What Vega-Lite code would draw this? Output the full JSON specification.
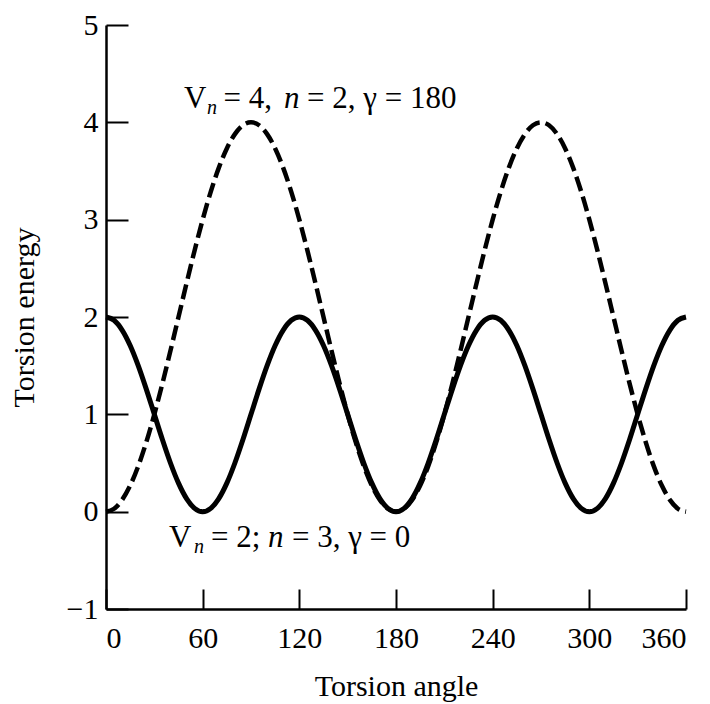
{
  "$schema": "https://vega.github.io/schema/vega-lite/v6.json",
  "width": 580,
  "height": 584,
  "autosize": "none",
  "padding": {"left": 106, "top": 25, "right": 24, "bottom": 95},
  "background": "white",
  "config": {
    "view": {"stroke": null},
    "font": "Liberation Serif",
    "axis": {
      "grid": false,
      "domainColor": "black",
      "domainWidth": 2.5,
      "tickColor": "black",
      "tickWidth": 2,
      "labelFont": "Liberation Serif",
      "labelFontSize": 30,
      "labelColor": "black",
      "titleFont": "Liberation Serif",
      "titleFontSize": 30,
      "titleFontWeight": "normal",
      "titleColor": "black"
    }
  },
  "datasets": {
    "curves": [
      {"a": 0, "s": 2, "d": 0},
      {"a": 5, "s": 1.966, "d": 0.03},
      {"a": 10, "s": 1.866, "d": 0.121},
      {"a": 15, "s": 1.707, "d": 0.268},
      {"a": 20, "s": 1.5, "d": 0.468},
      {"a": 25, "s": 1.259, "d": 0.714},
      {"a": 30, "s": 1, "d": 1},
      {"a": 35, "s": 0.741, "d": 1.316},
      {"a": 40, "s": 0.5, "d": 1.653},
      {"a": 45, "s": 0.293, "d": 2},
      {"a": 50, "s": 0.134, "d": 2.347},
      {"a": 55, "s": 0.034, "d": 2.684},
      {"a": 60, "s": 0, "d": 3},
      {"a": 65, "s": 0.034, "d": 3.286},
      {"a": 70, "s": 0.134, "d": 3.532},
      {"a": 75, "s": 0.293, "d": 3.732},
      {"a": 80, "s": 0.5, "d": 3.879},
      {"a": 85, "s": 0.741, "d": 3.97},
      {"a": 90, "s": 1, "d": 4},
      {"a": 95, "s": 1.259, "d": 3.97},
      {"a": 100, "s": 1.5, "d": 3.879},
      {"a": 105, "s": 1.707, "d": 3.732},
      {"a": 110, "s": 1.866, "d": 3.532},
      {"a": 115, "s": 1.966, "d": 3.286},
      {"a": 120, "s": 2, "d": 3},
      {"a": 125, "s": 1.966, "d": 2.684},
      {"a": 130, "s": 1.866, "d": 2.347},
      {"a": 135, "s": 1.707, "d": 2},
      {"a": 140, "s": 1.5, "d": 1.653},
      {"a": 145, "s": 1.259, "d": 1.316},
      {"a": 150, "s": 1, "d": 1},
      {"a": 155, "s": 0.741, "d": 0.714},
      {"a": 160, "s": 0.5, "d": 0.468},
      {"a": 165, "s": 0.293, "d": 0.268},
      {"a": 170, "s": 0.134, "d": 0.121},
      {"a": 175, "s": 0.034, "d": 0.03},
      {"a": 180, "s": 0, "d": 0},
      {"a": 185, "s": 0.034, "d": 0.03},
      {"a": 190, "s": 0.134, "d": 0.121},
      {"a": 195, "s": 0.293, "d": 0.268},
      {"a": 200, "s": 0.5, "d": 0.468},
      {"a": 205, "s": 0.741, "d": 0.714},
      {"a": 210, "s": 1, "d": 1},
      {"a": 215, "s": 1.259, "d": 1.316},
      {"a": 220, "s": 1.5, "d": 1.653},
      {"a": 225, "s": 1.707, "d": 2},
      {"a": 230, "s": 1.866, "d": 2.347},
      {"a": 235, "s": 1.966, "d": 2.684},
      {"a": 240, "s": 2, "d": 3},
      {"a": 245, "s": 1.966, "d": 3.286},
      {"a": 250, "s": 1.866, "d": 3.532},
      {"a": 255, "s": 1.707, "d": 3.732},
      {"a": 260, "s": 1.5, "d": 3.879},
      {"a": 265, "s": 1.259, "d": 3.97},
      {"a": 270, "s": 1, "d": 4},
      {"a": 275, "s": 0.741, "d": 3.97},
      {"a": 280, "s": 0.5, "d": 3.879},
      {"a": 285, "s": 0.293, "d": 3.732},
      {"a": 290, "s": 0.134, "d": 3.532},
      {"a": 295, "s": 0.034, "d": 3.286},
      {"a": 300, "s": 0, "d": 3},
      {"a": 305, "s": 0.034, "d": 2.684},
      {"a": 310, "s": 0.134, "d": 2.347},
      {"a": 315, "s": 0.293, "d": 2},
      {"a": 320, "s": 0.5, "d": 1.653},
      {"a": 325, "s": 0.741, "d": 1.316},
      {"a": 330, "s": 1, "d": 1},
      {"a": 335, "s": 1.259, "d": 0.714},
      {"a": 340, "s": 1.5, "d": 0.468},
      {"a": 345, "s": 1.707, "d": 0.268},
      {"a": 350, "s": 1.866, "d": 0.121},
      {"a": 355, "s": 1.966, "d": 0.03},
      {"a": 360, "s": 2, "d": 0}
    ],
    "regular": [
      {"a": 48.4, "e": 4.147, "t": "V"},
      {"a": 72.9, "e": 4.147, "t": "= 4,"},
      {"a": 124.8, "e": 4.147, "t": "= 2, γ = 180"},
      {"a": 39.1, "e": -0.363, "t": "V"},
      {"a": 65.2, "e": -0.363, "t": "= 2;"},
      {"a": 115.4, "e": -0.363, "t": "= 3, γ = 0"}
    ],
    "italic": [
      {"a": 110.5, "e": 4.147, "t": "n"},
      {"a": 100.6, "e": -0.363, "t": "n"}
    ],
    "sub": [
      {"a": 62.7, "e": 4.086, "t": "n"},
      {"a": 54.6, "e": -0.425, "t": "n"}
    ]
  },
  "layer": [
    {
      "data": {"name": "curves"},
      "mark": {"type": "line", "color": "black", "strokeWidth": 5, "interpolate": "monotone"},
      "encoding": {
        "x": {"field": "a", "type": "quantitative", "title": "Torsion angle",
              "scale": {"domain": [0, 360], "nice": false, "zero": false},
              "axis": {"values": [0, 60, 120, 180, 240, 300, 360], "format": "d", "tickSize": -20, "labelPadding": 34, "titlePadding": 18}},
        "y": {"field": "s", "type": "quantitative", "title": "Torsion energy",
              "scale": {"domain": [-1, 5], "nice": false, "zero": false},
              "axis": {"values": [-1, 0, 1, 2, 3, 4, 5], "format": "d", "tickSize": -22, "labelPadding": 30, "titlePadding": 27}}
      }
    },
    {
      "data": {"name": "curves"},
      "mark": {"type": "line", "color": "black", "strokeWidth": 4.5, "strokeDash": [15, 6], "interpolate": "monotone"},
      "encoding": {
        "x": {"field": "a", "type": "quantitative", "title": "Torsion angle"},
        "y": {"field": "d", "type": "quantitative", "title": "Torsion energy"}
      }
    },
    {
      "data": {"name": "regular"},
      "mark": {"type": "text", "align": "left", "baseline": "alphabetic", "fontSize": 31, "font": "Liberation Serif", "color": "black"},
      "encoding": {
        "x": {"field": "a", "type": "quantitative", "title": "Torsion angle"},
        "y": {"field": "e", "type": "quantitative", "title": "Torsion energy"},
        "text": {"field": "t"}
      }
    },
    {
      "data": {"name": "italic"},
      "mark": {"type": "text", "align": "left", "baseline": "alphabetic", "fontSize": 31, "fontStyle": "italic", "font": "Liberation Serif", "color": "black"},
      "encoding": {
        "x": {"field": "a", "type": "quantitative", "title": "Torsion angle"},
        "y": {"field": "e", "type": "quantitative", "title": "Torsion energy"},
        "text": {"field": "t"}
      }
    },
    {
      "data": {"name": "sub"},
      "mark": {"type": "text", "align": "left", "baseline": "alphabetic", "fontSize": 20, "fontStyle": "italic", "font": "Liberation Serif", "color": "black"},
      "encoding": {
        "x": {"field": "a", "type": "quantitative", "title": "Torsion angle"},
        "y": {"field": "e", "type": "quantitative", "title": "Torsion energy"},
        "text": {"field": "t"}
      }
    }
  ]
}
